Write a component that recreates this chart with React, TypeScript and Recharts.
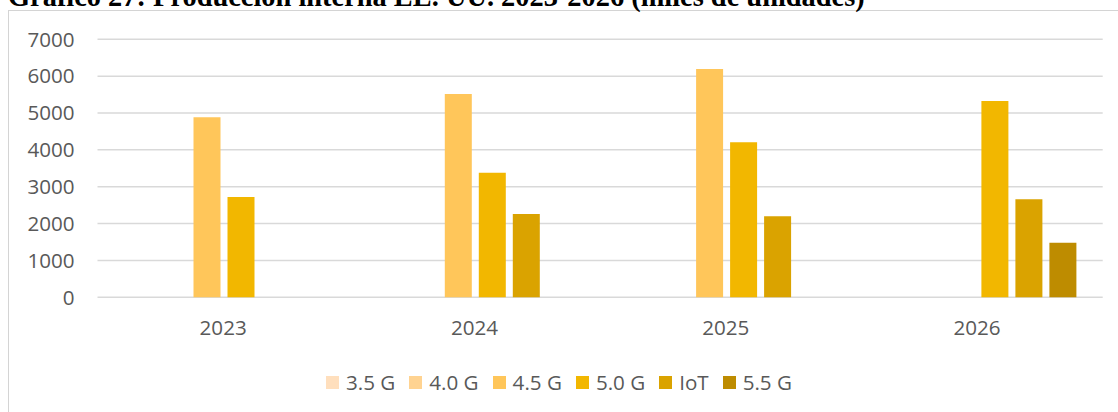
import React from 'react';
import { BarChart, Bar, XAxis, YAxis, CartesianGrid, Legend } from 'recharts';

const years = ['2023', '2024', '2025', '2026'];
const s35: (number | null)[] = [null, null, null, null];
const s40: (number | null)[] = [null, null, null, null];
const s45: (number | null)[] = [4883, 5515, 6194, null];
const s50: (number | null)[] = [2721, 3381, 4205, 5326];
const sIoT: (number | null)[] = [null, 2260, 2197, 2659];
const s55: (number | null)[] = [null, null, null, 1481];
const yTicks = [0, 1000, 2000, 3000, 4000, 5000, 6000, 7000];

const seriesNames = ['3.5 G', '4.0 G', '4.5 G', '5.0 G', 'IoT', '5.5 G'];
const seriesKeys = ['s35', 's40', 's45', 's50', 'sIoT', 's55'];
const seriesColors = ['#FFDFBD', '#FFD391', '#FFC65A', '#F2B700', '#DAA300', '#BE8C00'];

const data = years.map((y, i) => ({
  year: y,
  s35: s35[i],
  s40: s40[i],
  s45: s45[i],
  s50: s50[i],
  sIoT: sIoT[i],
  s55: s55[i],
}));

const FONT = '"Open Sans", sans-serif';
const FS = 20.6;

const LegendContent = () => (
  <div style={{ display: 'flex', justifyContent: 'center', alignItems: 'center', fontFamily: FONT, fontSize: FS, color: '#595959', height: 24 }}>
    {seriesNames.map((n, i) => (
      <div key={n} style={{ display: 'flex', alignItems: 'center', marginRight: i < seriesNames.length - 1 ? 14 : 0 }}>
        <div style={{ width: 13, height: 13, background: seriesColors[i], marginRight: 7 }} />
        <span style={{ lineHeight: '24px' }}>{n}</span>
      </div>
    ))}
  </div>
);

export default function App() {
  return (
    <div style={{ position: 'absolute', left: 0, top: 0, width: 1118, height: 412, overflow: 'hidden', background: '#fff' }}>
      <div style={{ position: 'absolute', left: 8, top: 10, width: 1300, height: 600, border: '1px solid #d4d4d4', boxSizing: 'border-box' }} />
      <div style={{ position: 'absolute', left: 8, top: -17, fontFamily: '"Liberation Serif", serif', fontWeight: 'bold', fontSize: 28.4, lineHeight: 1, whiteSpace: 'nowrap', color: '#000' }}>
        Gráfico 27: Producción interna EE. UU. 2023-2026 (miles de unidades)
      </div>
      <div style={{ position: 'absolute', left: 0, top: 0 }}>
        <BarChart width={1118} height={412} data={data} margin={{ top: 39.3, right: 15.3, left: 0, bottom: 0 }} barGap={7} barCategoryGap={28}>
          <CartesianGrid vertical={false} stroke="#d9d9d9" strokeWidth={1.5} />
          <XAxis dataKey="year" height={114.7} axisLine={false} tickLine={false} tickSize={0} tickMargin={23} tick={{ fill: '#595959', fontSize: FS, fontFamily: FONT }} />
          <YAxis width={97.5} domain={[0, 7000]} ticks={yTicks} axisLine={false} tickLine={false} tickSize={0} tickMargin={23} tick={{ fill: '#595959', fontSize: FS, fontFamily: FONT }} />
          <Legend layout="horizontal" verticalAlign="middle" align="center" wrapperStyle={{ top: 370, left: 0, width: 1118 }} content={LegendContent} />
          {seriesKeys.map((k, i) => (
            <Bar key={k} dataKey={k} name={seriesNames[i]} fill={seriesColors[i]} isAnimationActive={false} />
          ))}
        </BarChart>
      </div>
    </div>
  );
}
